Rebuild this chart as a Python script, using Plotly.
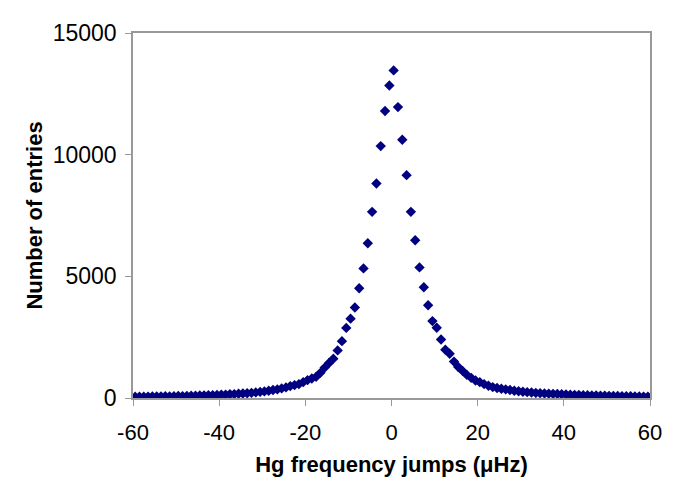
import plotly.graph_objects as go

x_vals = [k + 0.5 for k in range(-60, 60)]

y_left_tail = [50, 55, 52, 58, 62, 60, 66, 70, 68, 75,
               80, 78, 85, 92, 90, 100, 108, 110, 120, 128,
               135, 140, 152, 160, 172, 185, 195, 212, 230, 250,
               272, 298]
y_core = [326, 353, 394, 435, 489, 530, 570, 652, 734, 802,
          869, 1033, 1250, 1440, 1617, 1956, 2337, 2880, 3261, 3722,
          4512, 5327, 6359, 7650, 8817, 10353, 11792, 12840, 13463, 11955,
          10610, 9159, 7650, 6481, 5368, 4553, 3810, 3160, 2885, 2405,
          1985, 1820, 1495, 1277, 1114, 950, 828, 720, 652, 570,
          503, 448, 408, 380, 353, 326, 299]
y_right_tail = [275, 255, 240, 225, 210, 198, 188, 178, 170, 162,
                153, 146, 138, 130, 123, 117, 112, 107, 102, 97,
                93, 89, 85, 81, 77, 73, 69, 66, 62, 58, 55]
y_vals = y_left_tail + y_core + y_right_tail
y_vals = y_vals[:len(x_vals)]

x_ticks = [-60, -40, -20, 0, 20, 40, 60]
y_ticks = [0, 5000, 10000, 15000]

fig = go.Figure(go.Scatter(
    x=x_vals[:len(y_vals)], y=y_vals, mode="markers",
    marker=dict(symbol="diamond", size=8, color="#000080"),
    hoverinfo="x+y"))

font = "Liberation Sans, Arial, sans-serif"
fig.update_layout(
    width=699, height=496,
    margin=dict(l=125, r=57, t=22, b=106),
    paper_bgcolor="white", plot_bgcolor="white",
    showlegend=False,
    font=dict(family=font, size=22, color="black"),
    xaxis=dict(range=[-60, 60], tickvals=x_ticks, ticktext=[str(v) for v in x_ticks],
               showgrid=False, zeroline=False, showline=True, mirror=True,
               linecolor="#999999", linewidth=1.5, ticks="outside", ticklen=6,
               tickcolor="#999999", ticklabelstandoff=8, tickfont=dict(size=22),
               title=dict(text="<b>Hg frequency jumps (μHz)</b>", font=dict(size=22), standoff=12)),
    yaxis=dict(range=[0, 15000], tickvals=y_ticks, ticktext=[str(v) for v in y_ticks],
               showgrid=False, zeroline=False, showline=True, mirror=True,
               linecolor="#999999", linewidth=1.5, ticks="outside", ticklen=6,
               tickcolor="#999999", ticklabelstandoff=4, tickfont=dict(size=23),
               title=dict(text="<b>Number of entries</b>", font=dict(size=22), standoff=4)),
)
fig.write_html("out.html")
